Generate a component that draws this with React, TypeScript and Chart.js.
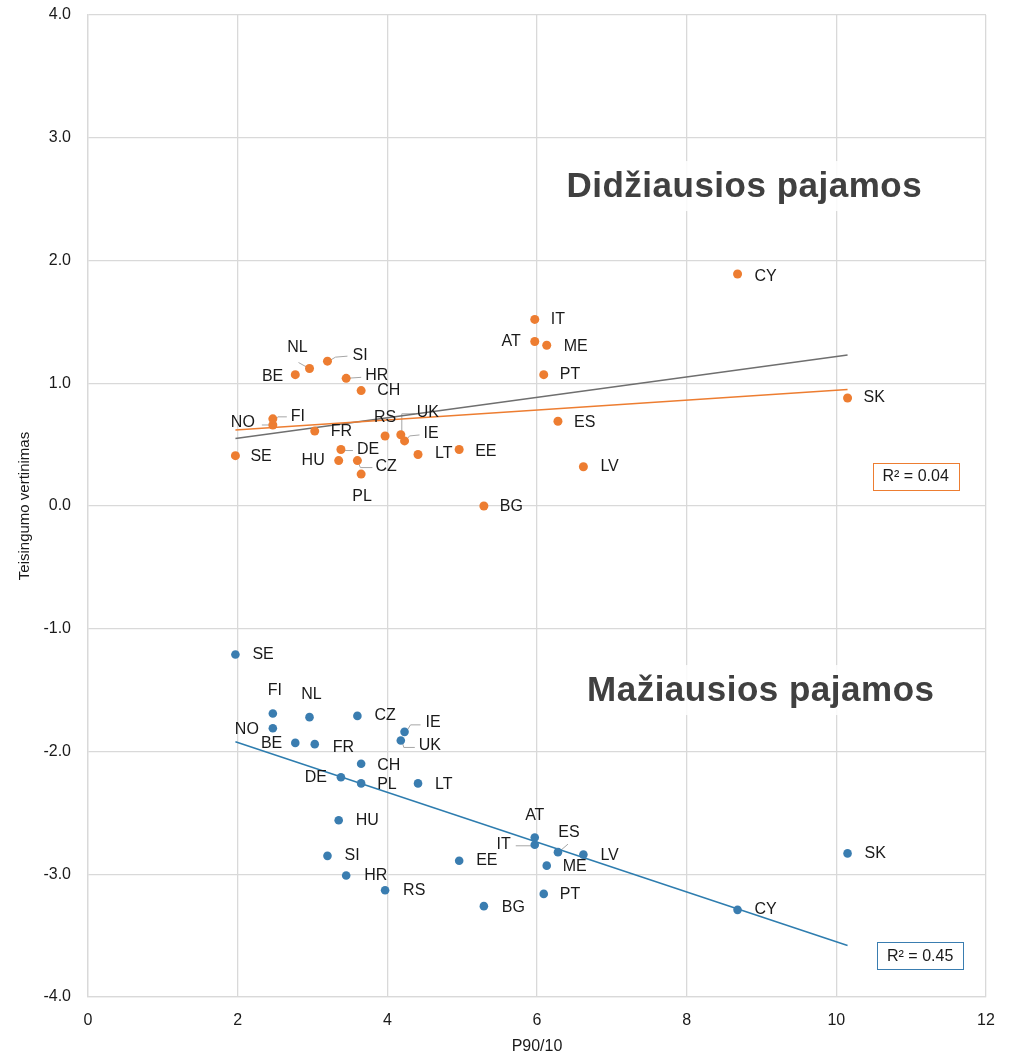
import React, { useEffect, useRef } from "react";
import { Chart, registerables } from "chart.js";

Chart.register(...registerables);

// ---------- data ----------
const countries = ["SE","NO","FI","BE","NL","SI","HR","CH","FR","DE","HU","CZ","PL","RS","UK","IE","LT","EE","BG","IT","AT","ME","PT","ES","LV","CY","SK"];
const p9010 = [1.97,2.47,2.47,2.77,2.96,3.20,3.45,3.65,3.03,3.38,3.35,3.60,3.65,3.97,4.18,4.23,4.41,4.96,5.29,5.97,5.97,6.13,6.09,6.28,6.62,8.68,10.15];
const topIncome = [0.41,0.66,0.71,1.07,1.12,1.18,1.04,0.94,0.61,0.46,0.37,0.37,0.26,0.57,0.58,0.53,0.42,0.46,0.00,1.52,1.34,1.31,1.07,0.69,0.32,1.89,0.88];
const bottomIncome = [-1.21,-1.81,-1.69,-1.93,-1.72,-2.85,-3.01,-2.10,-1.94,-2.21,-2.56,-1.71,-2.26,-3.13,-1.91,-1.84,-2.26,-2.89,-3.26,-2.76,-2.70,-2.93,-3.16,-2.82,-2.84,-3.29,-2.83];

const topTrendX = [1.97, 10.15];
const topTrendY = [0.62, 0.95];
const greyTrendY = [0.55, 1.23];
const bottomTrendX = [1.97, 10.15];
const bottomTrendY = [-1.92, -3.58];

const topR2 = "R\u00B2 = 0.04";
const bottomR2 = "R\u00B2 = 0.45";
const topTitle = "Didžiausios pajamos";
const bottomTitle = "Mažiausios pajamos";
const xTitle = "P90/10";
const yTitle = "Teisingumo vertinimas";

// ---------- styles / label placement ----------
const ORANGE = "#ED7D31";
const BLUE = "#3A7DB0";
const GREY_LINE = "#6F6F6F";
const GRID = "#D9D9D9";
const FONT = "'Liberation Sans', Arial, Helvetica, sans-serif";

type LabelPos = { dx: number; dy: number; align: CanvasTextAlign; leader?: number[][] };

const topLabels: Record<string, LabelPos> = {
  SE: { dx: 15, dy: 1, align: "left" },
  NO: { dx: -18, dy: -2, align: "right", leader: [[-11, 0], [-2, 0]] },
  FI: { dx: 18, dy: -2, align: "left", leader: [[2, 1], [5, -2], [14, -2]] },
  BE: { dx: -12, dy: 2, align: "right" },
  NL: { dx: -12, dy: -21, align: "center", leader: [[-11, -6], [-2, -1]] },
  SI: { dx: 25, dy: -6, align: "left", leader: [[3, -1], [8, -4], [20, -5]] },
  HR: { dx: 19, dy: -3, align: "left", leader: [[0, 0], [15, -1]] },
  CH: { dx: 16, dy: 0, align: "left" },
  FR: { dx: 16, dy: 0, align: "left" },
  DE: { dx: 16, dy: 0, align: "left", leader: [[0, 1], [12, 1]] },
  HU: { dx: -14, dy: 0, align: "right" },
  CZ: { dx: 18, dy: 6, align: "left", leader: [[0, 0], [3, 7], [15, 7]] },
  PL: { dx: 1, dy: 23, align: "center" },
  RS: { dx: 0, dy: -18, align: "center" },
  UK: { dx: 16, dy: -22, align: "left", leader: [[1, 0], [1, -21], [14, -21]] },
  IE: { dx: 19, dy: -7, align: "left", leader: [[1, 0], [5, -5], [15, -6]] },
  LT: { dx: 17, dy: -1, align: "left" },
  EE: { dx: 16, dy: 2, align: "left" },
  BG: { dx: 16, dy: 1, align: "left" },
  IT: { dx: 16, dy: 0, align: "left" },
  AT: { dx: -14, dy: 0, align: "right" },
  ME: { dx: 17, dy: 1, align: "left" },
  PT: { dx: 16, dy: 0, align: "left" },
  ES: { dx: 16, dy: 1, align: "left" },
  LV: { dx: 17, dy: 0, align: "left" },
  CY: { dx: 17, dy: 3, align: "left" },
  SK: { dx: 16, dy: 0, align: "left" },
};

const bottomLabels: Record<string, LabelPos> = {
  SE: { dx: 17, dy: 0, align: "left" },
  FI: { dx: 2, dy: -23, align: "center" },
  NL: { dx: 2, dy: -23, align: "center" },
  CZ: { dx: 17, dy: 0, align: "left" },
  NO: { dx: -14, dy: 1, align: "right" },
  IE: { dx: 21, dy: -9, align: "left", leader: [[1, 1], [6, -7], [16, -7]] },
  UK: { dx: 18, dy: 5, align: "left", leader: [[1, 0], [3, 7], [14, 7]] },
  BE: { dx: -13, dy: 1, align: "right" },
  FR: { dx: 18, dy: 3, align: "left" },
  CH: { dx: 16, dy: 2, align: "left" },
  DE: { dx: -14, dy: 0, align: "right" },
  PL: { dx: 16, dy: 1, align: "left" },
  LT: { dx: 17, dy: 1, align: "left" },
  HU: { dx: 17, dy: 0, align: "left" },
  SI: { dx: 17, dy: 0, align: "left" },
  HR: { dx: 18, dy: 0, align: "left" },
  RS: { dx: 18, dy: 0, align: "left" },
  AT: { dx: 0, dy: -22, align: "center" },
  IT: { dx: -24, dy: 0, align: "right", leader: [[-19, 1], [0, 1]] },
  ES: { dx: 11, dy: -20, align: "center", leader: [[3, -2], [10, -8]] },
  LV: { dx: 17, dy: 1, align: "left" },
  EE: { dx: 17, dy: 0, align: "left" },
  ME: { dx: 16, dy: 1, align: "left" },
  PT: { dx: 16, dy: 1, align: "left" },
  BG: { dx: 18, dy: 1, align: "left" },
  CY: { dx: 17, dy: 0, align: "left" },
  SK: { dx: 17, dy: 0, align: "left" },
};

// annotation anchors in data coordinates
const titleAnchors = [
  { text: topTitle, x: 8.77, y: 2.517 },
  { text: bottomTitle, x: 8.99, y: -1.589 },
];
const r2Anchors = [
  { text: topR2, x: 11.06, y: 0.244, color: ORANGE },
  { text: bottomR2, x: 11.12, y: -3.66, color: BLUE },
];

const annotationPlugin = {
  id: "annotationPlugin",
  beforeDatasetsDraw(chart: any) {
    const ctx: CanvasRenderingContext2D = chart.ctx;
    const xs = chart.scales.x;
    const ys = chart.scales.y;
    ctx.save();
    // panel titles
    ctx.font = `bold 35px ${FONT}`;
    try { (ctx as any).letterSpacing = "0.5px"; } catch (e) {}
    ctx.textAlign = "center";
    ctx.textBaseline = "alphabetic";
    for (const t of titleAnchors) {
      const px = xs.getPixelForValue(t.x);
      const py = ys.getPixelForValue(t.y);
      const w = ctx.measureText(t.text).width;
      ctx.fillStyle = "rgba(255,255,255,0.85)";
      ctx.fillRect(px - w / 2 - 8, py - 36, w + 16, 50);
      ctx.fillStyle = "#404040";
      ctx.fillText(t.text, px, py);
    }
    try { (ctx as any).letterSpacing = "0px"; } catch (e) {}
    // leader lines
    ctx.strokeStyle = "#A6A6A6";
    ctx.lineWidth = 1;
    const drawLeaders = (vals: number[], layout: Record<string, LabelPos>) => {
      countries.forEach((c, i) => {
        const l = layout[c];
        if (!l || !l.leader) return;
        const px = xs.getPixelForValue(p9010[i]);
        const py = ys.getPixelForValue(vals[i]);
        ctx.beginPath();
        l.leader.forEach((p, j) => {
          if (j === 0) ctx.moveTo(px + p[0], py + p[1]);
          else ctx.lineTo(px + p[0], py + p[1]);
        });
        ctx.stroke();
      });
    };
    drawLeaders(topIncome, topLabels);
    drawLeaders(bottomIncome, bottomLabels);
    ctx.restore();
  },
  afterDatasetsDraw(chart: any) {
    const ctx: CanvasRenderingContext2D = chart.ctx;
    const xs = chart.scales.x;
    const ys = chart.scales.y;
    ctx.save();
    ctx.font = `16px ${FONT}`;
    ctx.fillStyle = "#1A1A1A";
    ctx.textBaseline = "middle";
    const drawLabels = (vals: number[], layout: Record<string, LabelPos>) => {
      countries.forEach((c, i) => {
        const l = layout[c] || { dx: 16, dy: 0, align: "left" as CanvasTextAlign };
        const px = xs.getPixelForValue(p9010[i]);
        const py = ys.getPixelForValue(vals[i]);
        ctx.textAlign = l.align;
        ctx.fillText(c, px + l.dx, py + l.dy);
      });
    };
    drawLabels(topIncome, topLabels);
    drawLabels(bottomIncome, bottomLabels);

    // R² boxes
    ctx.textAlign = "center";
    for (const r of r2Anchors) {
      const px = xs.getPixelForValue(r.x);
      const py = ys.getPixelForValue(r.y);
      ctx.fillStyle = "#FFFFFF";
      ctx.fillRect(px - 43, py - 13.5, 86, 27);
      ctx.strokeStyle = r.color;
      ctx.lineWidth = 1;
      ctx.strokeRect(Math.round(px - 43) + 0.5, Math.round(py - 13.5) + 0.5, 86, 27);
      ctx.fillStyle = "#1A1A1A";
      ctx.font = `16px ${FONT}`;
      ctx.fillText(r.text, px, py + 1);
    }
    ctx.restore();
  },
  afterDraw(chart: any) {
    const ctx: CanvasRenderingContext2D = chart.ctx;
    const area = chart.chartArea;
    ctx.save();
    ctx.fillStyle = "#1A1A1A";
    ctx.textAlign = "center";
    ctx.textBaseline = "middle";
    ctx.font = `16px ${FONT}`;
    ctx.fillText(xTitle, (area.left + area.right) / 2, 1047);
    ctx.translate(25, (area.top + area.bottom) / 2);
    ctx.rotate(-Math.PI / 2);
    ctx.font = `15px ${FONT}`;
    ctx.fillText(yTitle, 0, 0);
    ctx.restore();
  },
};

export default function App() {
  const ref = useRef<HTMLCanvasElement>(null);
  useEffect(() => {
    document.body.style.margin = "0";
    const topPts = countries.map((c, i) => ({ x: p9010[i], y: topIncome[i] }));
    const botPts = countries.map((c, i) => ({ x: p9010[i], y: bottomIncome[i] }));
    const chart = new Chart(ref.current as HTMLCanvasElement, {
      type: "scatter",
      data: {
        datasets: [
          {
            label: topTitle,
            data: topPts,
            backgroundColor: ORANGE,
            borderWidth: 0,
            pointRadius: 4.5,
            order: 1,
          },
          {
            label: bottomTitle,
            data: botPts,
            backgroundColor: BLUE,
            borderWidth: 0,
            pointRadius: 4.3,
            order: 1,
          },
          {
            label: "trend-top",
            data: topTrendX.map((x, i) => ({ x, y: topTrendY[i] })),
            showLine: true,
            borderColor: ORANGE,
            borderWidth: 1.5,
            pointRadius: 0,
            order: 2,
          },
          {
            label: "trend-grey",
            data: topTrendX.map((x, i) => ({ x, y: greyTrendY[i] })),
            showLine: true,
            borderColor: GREY_LINE,
            borderWidth: 1.5,
            pointRadius: 0,
            order: 2,
          },
          {
            label: "trend-bottom",
            data: bottomTrendX.map((x, i) => ({ x, y: bottomTrendY[i] })),
            showLine: true,
            borderColor: "#2E7DAF",
            borderWidth: 1.5,
            pointRadius: 0,
            order: 2,
          },
        ],
      },
      options: {
        responsive: false,
        animation: false,
        devicePixelRatio: 1,
        layout: { padding: { left: 0, right: 23, top: 15, bottom: 0 } },
        plugins: {
          legend: { display: false },
          tooltip: { enabled: false },
        },
        scales: {
          x: {
            type: "linear",
            min: 0,
            max: 12,
            ticks: {
              stepSize: 2,
              padding: 4,
              color: "#1A1A1A",
              font: { family: FONT, size: 16 },
            },
            grid: { color: GRID, lineWidth: 1.3, drawTicks: true, tickLength: 10, tickColor: "rgba(0,0,0,0)" },
            border: { color: GRID, width: 1.3 },
            afterFit: (s: any) => { s.height = 58; },
          },
          y: {
            type: "linear",
            min: -4,
            max: 4,
            ticks: {
              stepSize: 1,
              padding: 4,
              color: "#1A1A1A",
              font: { family: FONT, size: 16 },
              callback: (v: any) => Number(v).toFixed(1),
            },
            grid: { color: GRID, lineWidth: 1.3, drawTicks: true, tickLength: 13, tickColor: "rgba(0,0,0,0)" },
            border: { color: GRID, width: 1.3 },
            afterFit: (s: any) => { s.width = 88; },
          },
        },
      },
      plugins: [annotationPlugin],
    } as any);
    return () => chart.destroy();
  }, []);
  return (
    <div style={{ width: 1009, height: 1055 }}>
      <canvas ref={ref} width={1009} height={1055} style={{ display: "block" }} />
    </div>
  );
}
